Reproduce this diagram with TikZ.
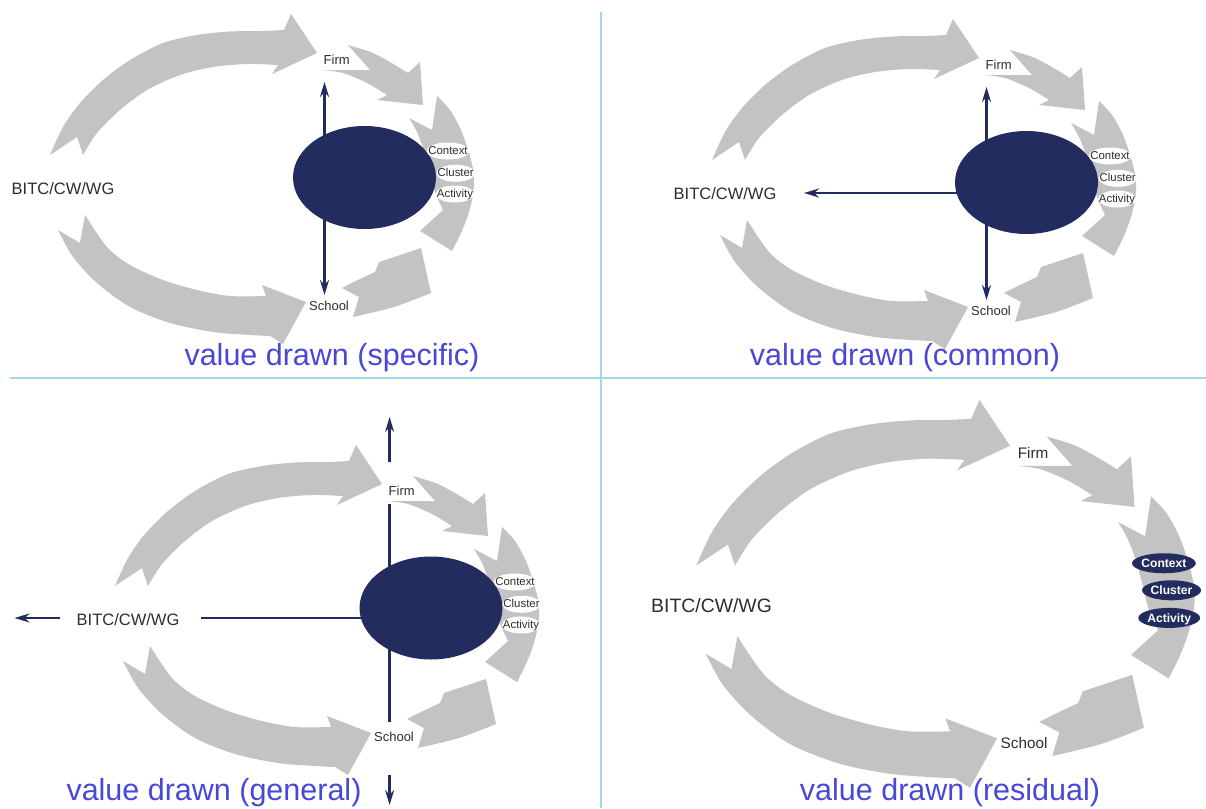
\documentclass[tikz,border=0pt]{standalone}
\usepackage{fontspec}
\setmainfont{Liberation Sans}
\usepackage{xcolor}
\usepackage{tikz}
\usetikzlibrary{
    arrows.meta,
    shapes.geometric
}

\definecolor{flowgray}{RGB}{195,195,195}
\definecolor{hubnavy}{RGB}{35,44,94}
\definecolor{capblue}{RGB}{72,72,214}
\definecolor{rulecyan}{RGB}{160,216,232}
\definecolor{txtgray}{RGB}{45,45,45}

% the six grey flow arrows of one cycle (panel coordinates, y down)
\newcommand{\cyclearrows}{%
  \fill[flow] plot[smooth] coordinates {(50,155) (63,127) (80,103) (103,80) (130,60) (163,43) (197,35) (230,31.5) (263,31) (284,30)}
    -- (291,14) -- (317,53) -- (272,74) -- (278,65)
    -- plot[smooth] coordinates {(278,65) (247,64) (213,67) (180,75) (147,90) (120,110) (97,133) (83,155)}
    -- (77,137) -- cycle;
  \fill[flow] plot[smooth] coordinates {(348,45) (373,53) (395,65) (408,73)}
    -- (420,62) -- (423,105) -- (377,100) -- (387,95)
    -- plot[smooth] coordinates {(387,95) (367,83) (343,73) (322,70)}
    -- (370,70) -- cycle;
  \fill[flow] plot[smooth] coordinates {(437,96) (450,110) (461,130) (469,153) (474,175) (473,195) (468,215) (461,233) (452,251)}
    -- (420,231) -- (443,210)
    -- plot[smooth] coordinates {(443,210) (435,192) (430,172) (424,150) (417,132) (409,118)}
    -- (432,130) -- cycle;
  \fill[flow] plot[smooth] coordinates {(58,230) (73,257) (97,283) (130,307) (170,323) (213,332) (250,335) (270,336)}
    -- (283,344) -- (306,302) -- (262,285) -- (266,296)
    -- plot[smooth] coordinates {(266,296) (230,296) (197,290) (163,280) (130,265) (107,247) (85,215)}
    -- (80,243) -- cycle;
  \fill[flow] plot[smooth] coordinates {(342,288) (358,280) (375,272)}
    -- (379,262) -- (421,248) -- (431,293)
    -- plot[smooth] coordinates {(431,293) (394,307) (353,317)}
    -- (359,297) -- cycle;
}
\newcommand{\cyclelabels}[1]{%
  \node[actor] (bitc#1) at (63,189) {BITC/CW/WG};
  \node[party] (firm#1) at (336.7,59.3) {Firm};
  \node[party] (school#1) at (329,306) {School};
}

\begin{document}
\begin{tikzpicture}[x=1pt,y=-1pt,>={Stealth[length=15pt,width=9pt]},
    flow/.style={fill=flowgray},
    val/.style={draw=hubnavy,line width=2.4pt},
    divider/.style={draw=rulecyan,line width=2.5pt},
    caption/.style={text=capblue,font=\fontsize{30.5}{32}\selectfont,inner sep=0pt}]
    \tikzstyle{hub}=[ellipse,fill=hubnavy,minimum width=143pt,minimum height=103pt,inner sep=0pt]
    \tikzstyle{tag}=[ellipse,fill=white,text=txtgray,inner xsep=-4.5pt,inner ysep=0pt,minimum height=17pt,text height=8pt,text depth=1pt,font=\fontsize{11.4}{12}\selectfont]
    \tikzstyle{tagdark}=[ellipse,fill=hubnavy,text=white,inner xsep=0pt,inner ysep=0pt,minimum height=17pt,text height=8pt,text depth=1pt,font=\bfseries\fontsize{10.3}{11}\selectfont]
    \tikzstyle{actor}=[text=txtgray,inner sep=0pt,font=\fontsize{16.5}{18}\selectfont]
    \tikzstyle{party}=[text=txtgray,inner sep=0pt,font=\fontsize{13}{14}\selectfont]
    \useasboundingbox (0,0) rectangle (1206,808);
    \draw[divider] (601,12) -- (601,808);
    \draw[divider] (10,378) -- (1206,378);

    % specific
    \begin{scope}
        \cyclearrows
        \coordinate (n1) at (324.5,82);
        \coordinate (s1) at (324.5,295);
        \draw[val,<->] (s1) -- (n1);
        \node[hub] (hub1) at (364.5,177.5) {};
        \node[tag] (ctx1) at (448,151) {Context};
        \node[tag] (clu1) at (455.7,173.3) {Cluster};
        \node[tag] (act1) at (455,194) {Activity};
        \cyclelabels{1}
    \end{scope}

    % common
    \begin{scope}[shift={(662,5)}]
        \cyclearrows
        \coordinate (n2) at (324.5,82);
        \coordinate (s2) at (324.5,295);
        \coordinate (c2) at (324.5,188);
        \coordinate (w2) at (142,188);
        \draw[val,<->] (s2) -- (n2);
        \draw[val,->] (c2) -- (w2);
        \node[hub] (hub2) at (364.5,177.5) {};
        \node[tag] (ctx2) at (448,151) {Context};
        \node[tag] (clu2) at (455.7,173.3) {Cluster};
        \node[tag] (act2) at (455,194) {Activity};
        \cyclelabels{2}
    \end{scope}

    % general
    \begin{scope}[shift={(65,431)}]
        \cyclearrows
        \coordinate (n3a) at (324.6,31);
        \coordinate (n3) at (324.6,-14);
        \coordinate (n3b) at (324.6,73);
        \coordinate (s3a) at (324.6,291);
        \coordinate (s3b) at (324.6,344);
        \coordinate (s3) at (324.6,374);
        \coordinate (c3) at (324.6,187);
        \coordinate (w3a) at (136,187);
        \coordinate (w3b) at (-5,187);
        \coordinate (w3) at (-50.5,187);
        \draw[val,->] (n3a) -- (n3);
        \draw[val] (n3b) -- (s3a);
        \draw[val,->] (s3b) -- (s3);
        \draw[val] (c3) -- (w3a);
        \draw[val,->] (w3b) -- (w3);
        \node[hub] (hub3) at (366,177) {};
        \node[tag] (ctx3) at (450,151) {Context};
        \node[tag] (clu3) at (456.5,173.3) {Cluster};
        \node[tag] (act3) at (456,194) {Activity};
        \cyclelabels{3}
    \end{scope}

    % residual
    \begin{scope}[shift={(637.5,383.5)},scale=1.175,transform shape]
        \cyclearrows
        \node[tagdark] (ctx4) at (448,153) {Context};
        \node[tagdark] (clu4) at (454.5,176) {Cluster};
        \node[tagdark] (act4) at (452.5,199.5) {Activity};
        \cyclelabels{4}
    \end{scope}

    \node[caption] (cap1) at (332,358) {value drawn (specific)};
    \node[caption] (cap2) at (905,358) {value drawn (common)};
    \node[caption] (cap3) at (214,793) {value drawn (general)};
    \node[caption] (cap4) at (950,793) {value drawn (residual)};
\end{tikzpicture}
\end{document}
